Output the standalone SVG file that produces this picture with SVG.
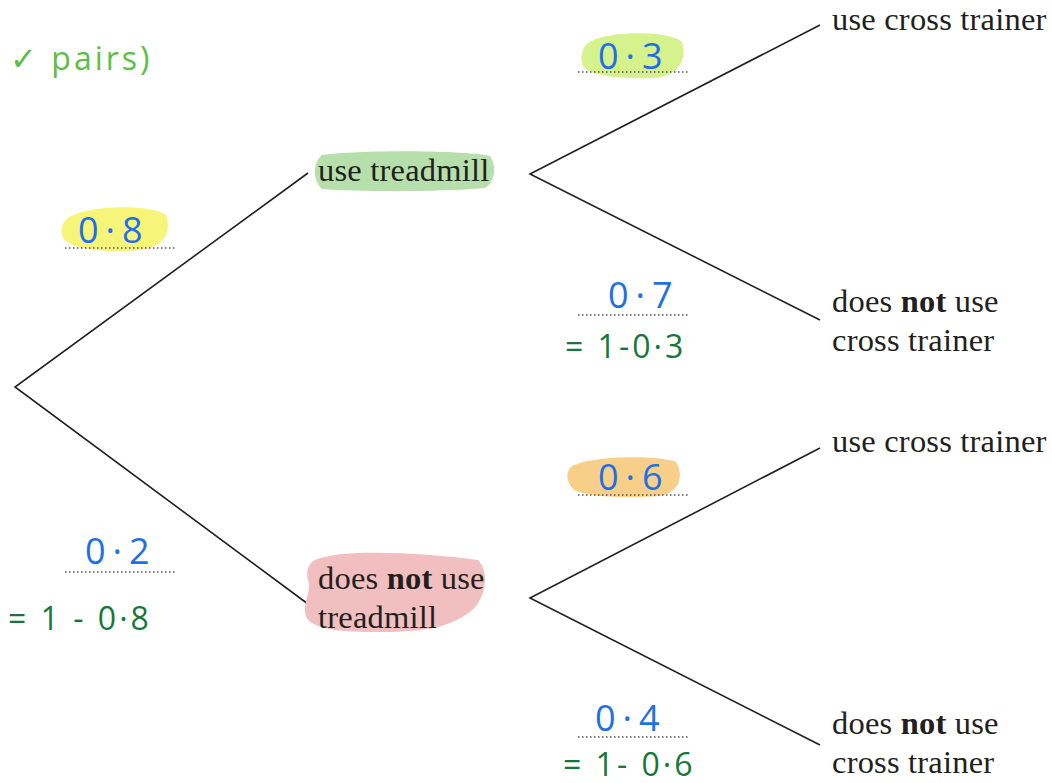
<svg xmlns="http://www.w3.org/2000/svg" width="1052" height="783" viewBox="0 0 1052 783">
<style>
.lbl{font-family:"Liberation Serif",serif;font-size:32.5px;fill:#231f20;letter-spacing:0.2px}
.hw{font-family:"Open Sans","Liberation Sans",sans-serif;font-weight:400}
.blue{fill:#1f6fe5;font-size:36px;letter-spacing:7px}
.grn{fill:#17773a;font-size:32px;letter-spacing:3px}
.dot{stroke:#555;stroke-width:1.5;stroke-dasharray:1.5 2.5;fill:none}
.br{stroke:#231f20;stroke-width:1.6;fill:none}
</style>
<rect width="1052" height="783" fill="#fff"/>
<g id="connectors">
<path class="br" d="M308,173 L15,387 L308,604"/>
<path class="br" d="M820,25 L530,174 L820,320"/>
<path class="br" d="M820,448 L530,598 L820,745"/>
</g>
<g id="highlights">
<path d="M66,220 C80,205 150,203 166,215 C172,230 165,248 140,250 C110,253 70,250 63,238 C60,230 62,224 66,220 Z" fill="#f6f57a"/>
<path d="M586,45 C600,30 670,30 682,42 C688,60 678,78 650,78 C620,79 590,76 583,66 C580,58 582,50 586,45 Z" fill="#d6f28c"/>
<path d="M322,155 C360,150 460,150 490,156 C497,166 495,182 485,188 C440,192 360,192 322,189 C312,180 313,162 322,155 Z" fill="#b6dfab"/>
<path d="M312,562 C330,548 420,552 478,560 C490,572 486,600 470,612 C450,626 430,632 380,632 C340,632 306,630 305,612 C304,600 312,590 308,580 C306,572 308,566 312,562 Z" fill="#f1bfbf"/>
<path d="M570,468 C585,455 660,455 676,462 C684,475 680,492 660,496 C630,498 590,498 574,490 C566,482 566,474 570,468 Z" fill="#f8cf88"/>
</g>
<g id="probs">
<path class="dot" d="M65,248 H176 M578,72 H690 M578,315 H690 M578,495 H690 M65,572 H176 M578,737 H690"/>
<text class="hw blue" x="78" y="243">0·8</text>
<text class="hw blue" x="598" y="69">0·3</text>
<text class="hw blue" x="608" y="308">0·7</text>
<text class="hw blue" x="85" y="564">0·2</text>
<text class="hw blue" x="598" y="490">0·6</text>
<text class="hw blue" x="595" y="731">0·4</text>
<text class="hw grn" x="565" y="358">= 1-0·3</text>
<text class="hw grn" x="8" y="630">= 1 - 0·8</text>
<text class="hw grn" x="563" y="776">= 1- 0·6</text>
<text class="hw" x="10" y="70" fill="#5dbe48" font-size="32" letter-spacing="3">✓ pairs)</text>
</g>
<g id="n-treadmill"><text class="lbl" x="318" y="181">use treadmill</text></g>
<g id="n-not-treadmill"><text class="lbl" x="318" y="589">does <tspan font-weight="bold">not</tspan> use</text><text class="lbl" x="318" y="628">treadmill</text></g>
<g id="n-ct1"><text class="lbl" x="832" y="30">use cross trainer</text></g>
<g id="n-nct1"><text class="lbl" x="832" y="312">does <tspan font-weight="bold">not</tspan> use</text><text class="lbl" x="832" y="351">cross trainer</text></g>
<g id="n-ct2"><text class="lbl" x="832" y="452">use cross trainer</text></g>
<g id="n-nct2"><text class="lbl" x="832" y="734">does <tspan font-weight="bold">not</tspan> use</text><text class="lbl" x="832" y="773">cross trainer</text></g>
</svg>
